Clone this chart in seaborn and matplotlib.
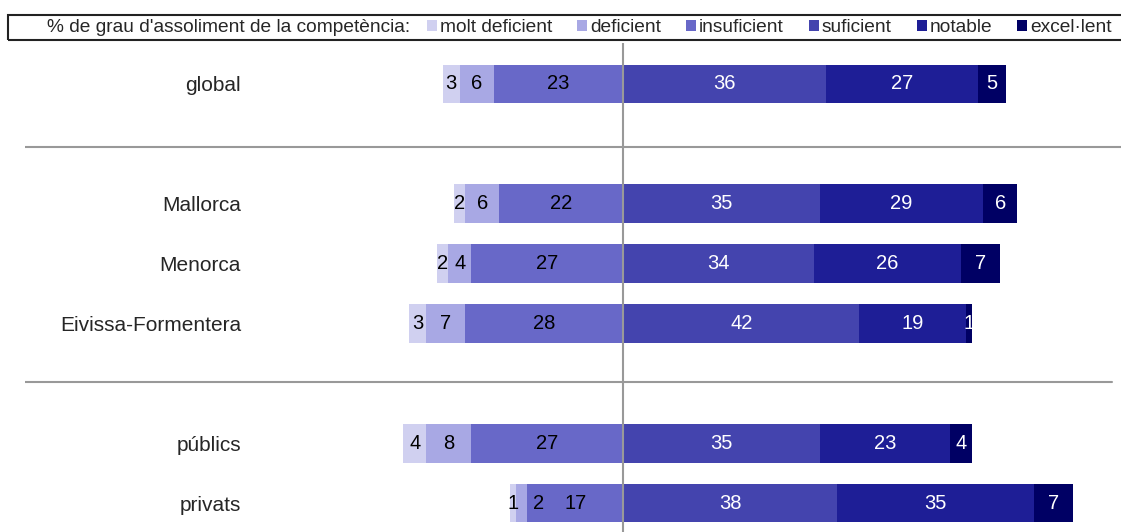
import pandas as pd
import numpy as np
import matplotlib
matplotlib.use('Agg')
from matplotlib import pyplot as plt
from matplotlib.patches import Patch, Rectangle
import seaborn as sns

groups = ['global', 'Mallorca', 'Menorca', 'Eivissa-Formentera', 'públics', 'privats']
# blank slots make the gaps between the blocks
order = ['global', ' ', 'Mallorca', 'Menorca', 'Eivissa-Formentera', '  ', 'públics', 'privats']
levels = ['molt deficient', 'deficient', 'insuficient', 'suficient', 'notable', 'excel·lent']
molt_deficient = [3, 2, 2, 3, 4, 1]
deficient = [6, 6, 4, 7, 8, 2]
insuficient = [23, 22, 27, 28, 27, 17]
suficient = [36, 35, 34, 42, 35, 38]
notable = [27, 29, 26, 19, 23, 35]
excellent = [5, 6, 7, 1, 4, 7]

colors = ['#d0d0f0', '#a8a8e4', '#6868c8', '#4444ae', '#1e1e96', '#000064']
text_colors = ['black', 'black', 'black', 'white', 'white', 'white']
title = "% de grau d'assoliment de la competència:"


def main():
    sns.set_style('white')
    plt.rcParams['font.family'] = ['Liberation Sans', 'DejaVu Sans']
    fs_cat = 15
    fs_num = 14.5
    fs_leg = 13.8

    df = pd.DataFrame({'grup': groups})
    vals = [molt_deficient, deficient, insuficient, suficient, notable, excellent]
    for lev, v in zip(levels, vals):
        df[lev] = np.array(v, dtype=float)

    # segment start / end for every level
    starts = {}
    ends = {}
    ends['insuficient'] = 0 * df['insuficient']
    starts['insuficient'] = -df['insuficient']
    ends['deficient'] = starts['insuficient']
    starts['deficient'] = ends['deficient'] - df['deficient']
    ends['molt deficient'] = starts['deficient']
    starts['molt deficient'] = ends['molt deficient'] - df['molt deficient']
    starts['suficient'] = 0 * df['suficient']
    ends['suficient'] = df['suficient']
    starts['notable'] = ends['suficient']
    ends['notable'] = starts['notable'] + df['notable']
    starts['excel·lent'] = ends['notable']
    ends['excel·lent'] = starts['excel·lent'] + df['excel·lent']

    fig = plt.figure(figsize=(11.21, 5.32), dpi=100)
    W, H = 1121, 532
    ax = fig.add_axes([25 / W, 0, 1 - 25 / W, 1 - 43 / H])

    # draw the outermost segments first, inner ones on top
    draw = [('molt deficient', starts), ('deficient', starts), ('insuficient', starts),
            ('excel·lent', ends), ('notable', ends), ('suficient', ends)]
    for lev, src in draw:
        tmp = pd.DataFrame({'grup': groups, 'v': src[lev]})
        sns.barplot(data=tmp, x='v', y='grup', order=order, orient='h',
                    color=colors[levels.index(lev)], saturation=1, width=0.65,
                    errorbar=None, ax=ax, linewidth=0)

    # label nudges so tiny neighbouring segments don't collide
    nudge = {('privats', 'deficient'): 3.0}
    for i, lev in enumerate(levels):
        for g, s, e, v in zip(groups, starts[lev], ends[lev], df[lev]):
            xc = (s + e) / 2 + nudge.get((g, lev), 0)
            ax.text(xc, order.index(g), '%d' % v, ha='center', va='center',
                    fontsize=fs_num, color=text_colors[i], zorder=6)

    ax.axvline(0, color='#999999', lw=1.5, zorder=5)
    ax.axhline(1.05, color='#999999', lw=1.5)
    ax.axhline(4.98, xmax=0.992, color='#999999', lw=1.5)

    px = 5.63
    ax.set_xlim((25 - 623) / px, (W - 623) / px)
    ax.set_ylim(7 + 29 / 59.86, -41 / 59.86)
    ax.set_xlabel('')
    ax.set_ylabel('')
    ax.set_xticks([])
    ax.tick_params(axis='y', length=0, pad=-(241 - 25) * 0.72, labelsize=fs_cat)
    sns.despine(ax=ax, left=True, bottom=True)

    # legend row with its box
    fig.patches.append(Rectangle((8 / W, 1 - 40 / H), 1.2, 25 / H, transform=fig.transFigure,
                                 fill=False, edgecolor='#222222', lw=1.5))
    fig.text(47 / W, 1 - 27.5 / H, title, ha='left', va='center', fontsize=fs_leg)
    handles = [Patch(facecolor=c, edgecolor='none') for c in colors]
    fig.legend(handles, levels, ncol=6, loc='center left', bbox_to_anchor=(427 / W, 1 - 27.5 / H),
               frameon=False, fontsize=fs_leg, handlelength=0.52, handleheight=0.52,
               handletextpad=0.16, columnspacing=1.3, borderpad=0, borderaxespad=0)

    fig.savefig('out.png', dpi=100)


if __name__ == '__main__':
    main()
